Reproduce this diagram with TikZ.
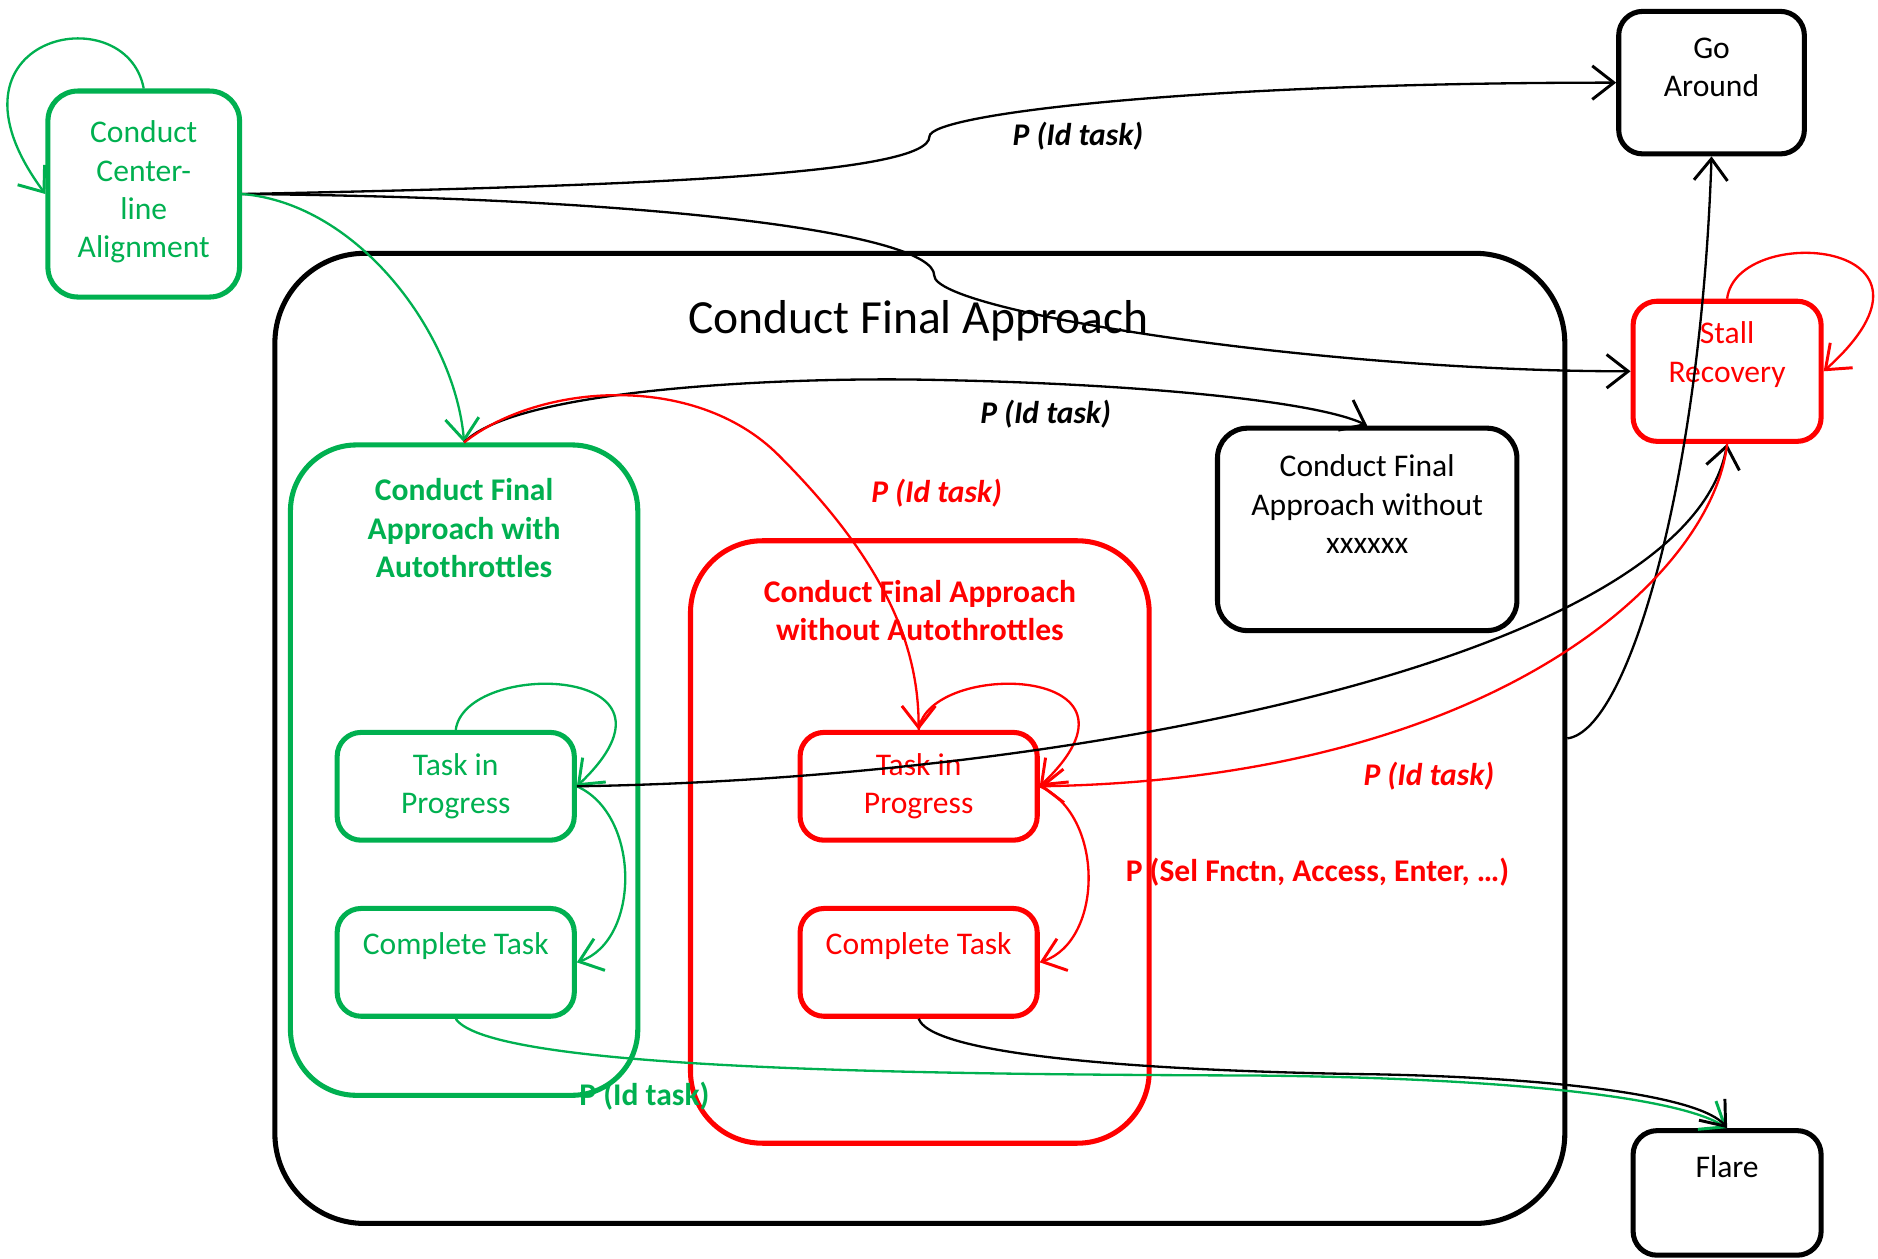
\documentclass[tikz,border=0pt]{standalone}
\usepackage{fontspec}
\setmainfont{Carlito}
\usepackage{xcolor}
\usetikzlibrary{arrows.meta}
\definecolor{okgreen}{RGB}{0,176,80}
\definecolor{alarmred}{RGB}{255,0,0}
\newcommand{\statefont}{\fontsize{7.5}{9.1}\selectfont}

\begin{document}
\begin{tikzpicture}[
  state/.style={draw, line width=1.2pt, rounded corners=2mm, align=center,
    inner sep=0pt, font=\statefont},
  gstate/.style={state, draw=okgreen, text=okgreen},
  rstate/.style={state, draw=alarmred, text=alarmred},
  group/.style={draw, line width=1.2pt, inner sep=0pt},
  grouptitle/.style={align=center, font=\statefont\bfseries},
  guard/.style={font=\statefont\bfseries\itshape, inner sep=1pt},
  trans/.style={line width=0.55pt,
    -{Straight Barb[length=1.8mm,width=2.8mm,line width=0.7pt]}},
]
  \useasboundingbox (0,0) rectangle (15.68,-10.51);

  % Outer states
  \node[gstate, minimum width=1.60cm, minimum height=1.72cm, rounded corners=2.5mm]
    (cca) at (1.20,-1.62) {Conduct\\Center-\\line\\Alignment\\[-2.4mm]};
  \node[state, minimum width=1.55cm, minimum height=1.19cm]
    (go) at (14.29,-0.69) {Go\\Around\\[-0.6mm]};
  \node[rstate, minimum width=1.57cm, minimum height=1.17cm]
    (stall) at (14.42,-3.10) {Stall\\Recovery\\~};
  \node[state, minimum width=1.57cm, minimum height=1.04cm]
    (flare) at (14.42,-9.96) {Flare\\[1.2mm]~};

  % Conduct Final Approach and its sub-states
  \node[group, minimum width=10.77cm, minimum height=8.10cm, rounded corners=7.5mm]
    (fa) at (7.68,-6.165) {};
  \node[font=\fontsize{11.3}{13.6}\selectfont] (fatitle) at (7.67,-2.68)
    {Conduct Final Approach};

  \node[group, draw=okgreen, minimum width=2.90cm, minimum height=5.43cm,
    rounded corners=5.5mm] (faw) at (3.875,-6.43) {};
  \node[grouptitle, text=okgreen] (fawtitle) at (3.875,-4.41)
    {Conduct Final\\Approach with\\Autothrottles};

  \node[group, draw=alarmred, minimum width=3.83cm, minimum height=5.03cm,
    rounded corners=6mm] (fawo) at (7.68,-7.03) {};
  \node[grouptitle, text=alarmred] (fawotitle) at (7.68,-5.10)
    {Conduct Final Approach\\without Autothrottles};

  \node[state, minimum width=2.50cm, minimum height=1.69cm, rounded corners=2.5mm]
    (fax) at (11.415,-4.42) {Conduct Final\\Approach without\\xxxxxx\\[1mm]~};

  \node[gstate, minimum width=1.98cm, minimum height=0.90cm] (gtip) at (3.805,-6.565)
    {Task in\\Progress};
  \node[gstate, minimum width=1.98cm, minimum height=0.90cm] (gct) at (3.805,-8.035)
    {Complete Task\\~};
  \node[rstate, minimum width=1.98cm, minimum height=0.90cm] (rtip) at (7.67,-6.565)
    {Task in\\Progress};
  \node[rstate, minimum width=1.98cm, minimum height=0.90cm] (rct) at (7.67,-8.035)
    {Complete Task\\~};

  % Self loops
  \draw[trans, okgreen] (cca.north) .. controls (1.05,0.05) and (-0.60,-0.30) .. (cca.west);
  \draw[trans, alarmred] (stall.north) .. controls (14.50,-1.85) and (16.45,-2.00) .. (stall.east);
  \draw[trans, okgreen] (gtip.north) .. controls (3.885,-5.50) and (5.885,-5.55) .. (gtip.east);
  \draw[trans, alarmred] (rtip.north) .. controls (7.75,-5.50) and (9.75,-5.55) .. (rtip.east);

  % Task in progress to complete
  \draw[trans, okgreen] (gtip.east) .. controls (5.35,-6.80) and (5.35,-7.85) .. (gct.east);
  \draw[trans, alarmred] (rtip.east) .. controls (9.22,-6.80) and (9.22,-7.85) .. (rct.east);

  % Transitions
  \draw[trans] (cca.east) .. controls (5.5,-1.55) and (7.76,-1.45) .. (7.76,-1.14)
    .. controls (7.76,-0.95) and (10.0,-0.69) .. (go.west);
  \draw[trans] (cca.east) .. controls (5.5,-1.65) and (7.80,-1.95) .. (7.80,-2.30)
    .. controls (7.80,-2.60) and (11.0,-3.10) .. (stall.west);
  \draw[trans, okgreen] (cca.east) .. controls (3.0,-1.70) and (3.80,-2.80) .. (faw.north);
  \draw[trans] (faw.north) .. controls (4.30,-3.25) and (6.50,-3.15) .. (7.70,-3.17)
    .. controls (9.50,-3.20) and (11.0,-3.35) .. (fax.north);
  \draw[trans, alarmred] (faw.north) .. controls (4.50,-3.20) and (5.80,-3.10) .. (6.50,-3.80)
    .. controls (7.40,-4.70) and (7.67,-5.40) .. (rtip.north);
  \draw[trans] (fa.east) .. controls (13.60,-6.10) and (14.20,-4.00) .. (go.south);
  \draw[trans] (gtip.east) .. controls (9.0,-6.50) and (14.10,-5.50) .. (stall.south);
  \draw[trans, alarmred] (stall.south) .. controls (14.30,-4.80) and (12.50,-6.50) .. (rtip.east);
  \draw[trans, okgreen] (gct.south) .. controls (4.10,-8.95) and (8.0,-8.97) .. (10.50,-8.98)
    .. controls (12.50,-9.00) and (14.0,-9.15) .. (flare.north);
  \draw[trans] (rct.south) .. controls (7.80,-8.85) and (10.0,-8.95) .. (11.50,-8.97)
    .. controls (13.0,-9.00) and (14.20,-9.15) .. (flare.north);

  % Guards
  \node[guard] (g1) at (9.00,-1.14) {P (Id task)};
  \node[guard] (g2) at (8.73,-3.46) {P (Id task)};
  \node[guard, text=alarmred] (g3) at (7.82,-4.12) {P (Id task)};
  \node[guard, text=alarmred] (g4) at (11.93,-6.48) {P (Id task)};
  \node[font=\statefont\bfseries, text=alarmred] (g5) at (11.00,-7.28)
    {P (Sel Fnctn, Access, Enter, …)};
  \node[font=\statefont\bfseries, text=okgreen] (g6) at (5.38,-9.15) {P (Id task)};
\end{tikzpicture}
\end{document}
